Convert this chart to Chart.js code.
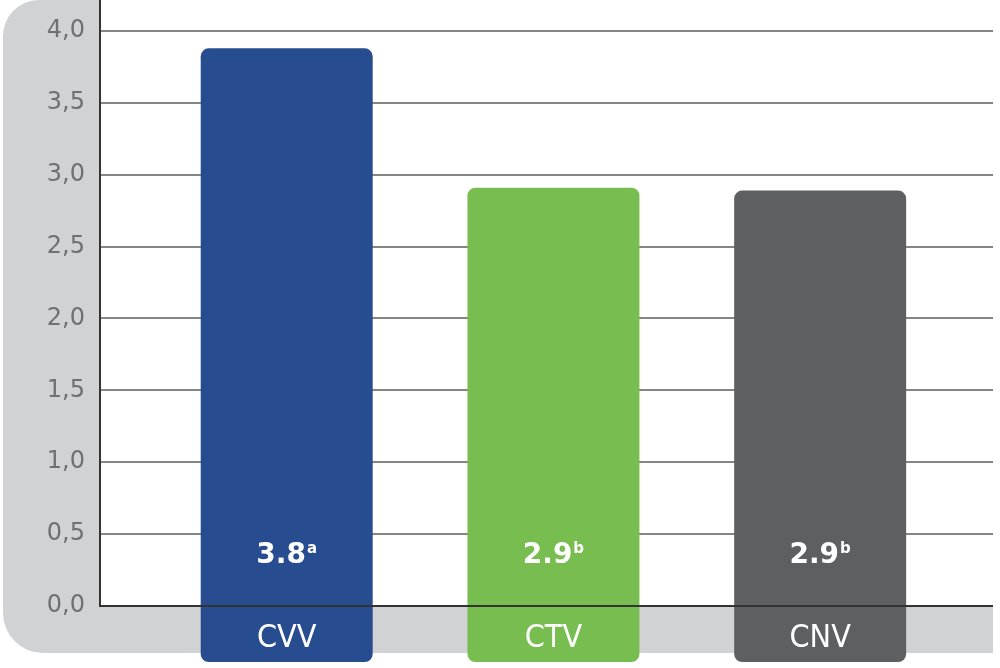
<!DOCTYPE html>
<html>
<head>
<meta charset="utf-8">
<script src="https://cdn.jsdelivr.net/npm/chart.js@4/dist/chart.umd.min.js"></script>
<style>
    html, body { margin: 0; padding: 0; background: #ffffff; }
    #wrap { width: 1000px; height: 668px; }
</style>
</head>
<body>
<div id="wrap"><canvas id="barChart" width="1000" height="668"></canvas></div>
<script>
const categories = ['CVV', 'CTV', 'CNV'];
const values = [3.88, 2.91, 2.89];
const valueLabels = ['3.8', '2.9', '2.9'];
const valueMarks = ['a', 'b', 'b'];
const barColors = ['#274c8f', '#77bd4f', '#5e5f61'];
const yTicks = [0, 0.5, 1, 1.5, 2, 2.5, 3, 3.5, 4];
const yTickLabels = ['0,0', '0,5', '1,0', '1,5', '2,0', '2,5', '3,0', '3,5', '4,0'];

const panelGrey = '#d1d2d4';
const axisDark = '#333333';

// grey rounded panel behind the y labels and under the zero line
const panelPlugin = {
    id: 'panel',
    beforeDraw(chart) {
        const ctx = chart.ctx;
        const area = chart.chartArea;
        const y0 = chart.scales.y.getPixelForValue(0);
        const bottom = 653;
        const left = 3;
        ctx.save();
        ctx.fillStyle = panelGrey;
        ctx.beginPath();
        ctx.moveTo(left + 36, 0);
        ctx.lineTo(area.left, 0);
        ctx.lineTo(area.left, y0);
        ctx.lineTo(area.right, y0);
        ctx.lineTo(area.right, bottom);
        ctx.lineTo(left + 40, bottom);
        ctx.arcTo(left, bottom, left, bottom - 40, 40);
        ctx.lineTo(left, 36);
        ctx.arcTo(left, 0, left + 36, 0, 36);
        ctx.closePath();
        ctx.fill();
        ctx.restore();
    }
};

// zero line, y axis line and the labels inside the bars
const labelPlugin = {
    id: 'barLabels',
    afterDatasetsDraw(chart) {
        const ctx = chart.ctx;
        const area = chart.chartArea;
        const y0 = chart.scales.y.getPixelForValue(0);
        ctx.save();
        ctx.strokeStyle = axisDark;
        ctx.lineWidth = 2;
        ctx.beginPath();
        ctx.moveTo(area.left, y0);
        ctx.lineTo(area.right, y0);
        ctx.moveTo(area.left, 0);
        ctx.lineTo(area.left, y0 + 1);
        ctx.stroke();

        const meta = chart.getDatasetMeta(0);
        meta.data.forEach((bar, i) => {
            const cx = bar.x;
            ctx.fillStyle = '#ffffff';
            ctx.textBaseline = 'alphabetic';

            ctx.font = 'bold 28px "DejaVu Sans"';
            const mainW = ctx.measureText(valueLabels[i]).width;
            ctx.font = 'bold 15px "DejaVu Sans"';
            const supW = ctx.measureText(valueMarks[i]).width;
            const startX = cx - (mainW + supW + 1) / 2;
            const base = y0 - 43;
            ctx.font = 'bold 28px "DejaVu Sans"';
            ctx.textAlign = 'left';
            ctx.fillText(valueLabels[i], startX, base);
            ctx.font = 'bold 15px "DejaVu Sans"';
            ctx.fillText(valueMarks[i], startX + mainW + 1, base - 10);

            ctx.font = '32px "DejaVu Sans Condensed", sans-serif';
            ctx.textAlign = 'center';
            ctx.fillText(categories[i], cx, y0 + 41);
        });
        ctx.restore();
    }
};

const ctx = document.getElementById('barChart').getContext('2d');
new Chart(ctx, {
    type: 'bar',
    data: {
        labels: categories,
        datasets: [{
            data: categories.map((c, i) => ({ x: i, y: values[i] })),
            backgroundColor: barColors,
            borderWidth: 0,
            borderRadius: 8,
            borderSkipped: false,
            base: -0.39,
            barPercentage: 0.8,
            categoryPercentage: 0.806
        }]
    },
    options: {
        responsive: false,
        animation: false,
        layout: { padding: { left: 0, top: 0, right: 7, bottom: 6 } },
        plugins: {
            legend: { display: false },
            tooltip: { enabled: false }
        },
        scales: {
            x: {
                type: 'linear',
                min: -0.7,
                max: 2.648,
                offset: false,
                display: false,
                afterBuildTicks(scale) {
                    scale.ticks = categories.map((c, i) => ({ value: i }));
                }
            },
            y: {
                min: -0.39,
                max: 4.216,
                afterFit(scale) {
                    scale.width = 100;
                    scale.paddingTop = 0;
                    scale.paddingBottom = 0;
                },
                afterBuildTicks(scale) {
                    scale.ticks = yTicks.map(v => ({ value: v }));
                },
                border: { display: false },
                grid: {
                    color: c => c.tick && c.tick.value === 0 ? 'rgba(0,0,0,0)' : '#858585',
                    lineWidth: 2,
                    drawTicks: false
                },
                ticks: {
                    padding: 15,
                    color: '#707070',
                    font: { family: '"DejaVu Sans"', size: 24 },
                    callback: (v) => {
                        const idx = yTicks.indexOf(v);
                        return idx >= 0 ? yTickLabels[idx] : '';
                    }
                }
            }
        }
    },
    plugins: [panelPlugin, labelPlugin]
});
</script>
</body>
</html>
